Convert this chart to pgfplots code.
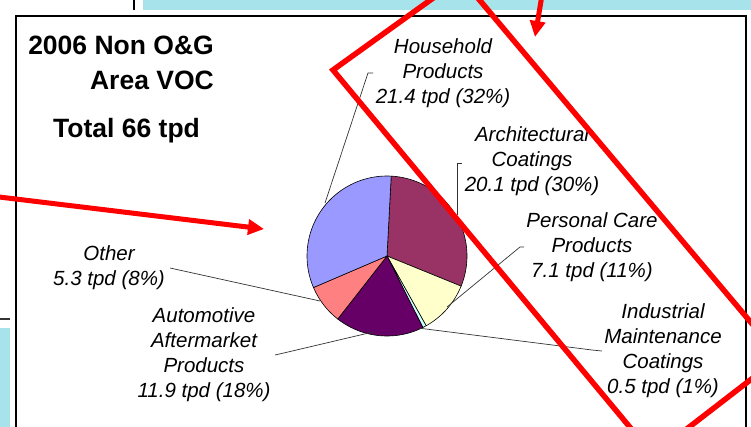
\documentclass[border=0pt]{standalone}
\usepackage{pgfplots}
\pgfplotsset{compat=1.18}
\usepackage{pgfplotstable}
\usepackage{fontspec}
\setmainfont{Liberation Sans}
\usetikzlibrary{arrows.meta}
\definecolor{cHouse}{HTML}{9999FF}
\definecolor{cArch}{HTML}{993366}
\definecolor{cPers}{HTML}{FFFFCC}
\definecolor{cInd}{HTML}{CCFFFF}
\definecolor{cAuto}{HTML}{660066}
\definecolor{cOther}{HTML}{FF8080}
\definecolor{slidecyan}{HTML}{A6E3EB}
\definecolor{redline}{HTML}{FF0000}

\pgfplotstableread{
name tpd
Architectural 20.1
PersonalCare 7.1
Industrial 0.5
Automotive 11.9
Other 5.3
Household 21.4
}\pietable
\pgfplotstablegetelem{0}{tpd}\of\pietable \let\vA\pgfplotsretval
\pgfplotstablegetelem{1}{tpd}\of\pietable \let\vB\pgfplotsretval
\pgfplotstablegetelem{2}{tpd}\of\pietable \let\vC\pgfplotsretval
\pgfplotstablegetelem{3}{tpd}\of\pietable \let\vD\pgfplotsretval
\pgfplotstablegetelem{4}{tpd}\of\pietable \let\vE\pgfplotsretval
\pgfplotstablegetelem{5}{tpd}\of\pietable \let\vF\pgfplotsretval
\pgfmathsetmacro\tot{\vA+\vB+\vC+\vD+\vE+\vF}
\pgfmathsetmacro\sA{87}
\pgfmathsetmacro\sB{\sA-360*\vA/\tot}
\pgfmathsetmacro\sC{\sB-360*\vB/\tot}
\pgfmathsetmacro\sD{\sC-360*\vC/\tot}
\pgfmathsetmacro\sE{\sD-360*\vD/\tot}
\pgfmathsetmacro\sF{\sE-360*\vE/\tot}
\pgfmathsetmacro\sG{\sF-360*\vF/\tot}

\begin{document}%
\begin{tikzpicture}
\begin{axis}[
  at={(0,0)}, anchor=south west,
  scale only axis, width=751bp, height=427bp,
  xmin=0, xmax=751, ymin=0, ymax=427, y dir=reverse,
  hide axis, clip=true,
]
% slide background pieces
\fill[slidecyan] (axis cs:143,-5) rectangle (axis cs:760,10);
\fill[slidecyan] (axis cs:-5,328) rectangle (axis cs:10,432);
\draw[black, line width=1.5bp] (axis cs:134,-5) -- (axis cs:134,10);
\draw[black!80, line width=1.5bp] (axis cs:-5,319) -- (axis cs:10,319);
% chart frame
\draw[black, line width=1.2bp] (axis cs:16,435) -- (axis cs:16,16) -- (axis cs:746,16) -- (axis cs:746,435);

% pie slices
\addplot[fill=cArch, draw=black, line width=0.6bp, domain=\sB:\sA, samples=60, variable=\t]
  ({387+80*cos(\t)},{256-80*sin(\t)}) -- (axis cs:387,256) -- cycle;
\addplot[fill=cPers, draw=black, line width=0.6bp, domain=\sC:\sB, samples=30, variable=\t]
  ({387+80*cos(\t)},{256-80*sin(\t)}) -- (axis cs:387,256) -- cycle;
\addplot[fill=cInd, draw=black, line width=0.6bp, domain=\sD:\sC, samples=5, variable=\t]
  ({387+80*cos(\t)},{256-80*sin(\t)}) -- (axis cs:387,256) -- cycle;
\addplot[fill=cAuto, draw=black, line width=0.6bp, domain=\sE:\sD, samples=40, variable=\t]
  ({387+80*cos(\t)},{256-80*sin(\t)}) -- (axis cs:387,256) -- cycle;
\addplot[fill=cOther, draw=black, line width=0.6bp, domain=\sF:\sE, samples=20, variable=\t]
  ({387+80*cos(\t)},{256-80*sin(\t)}) -- (axis cs:387,256) -- cycle;
\addplot[fill=cHouse, draw=black, line width=0.6bp, domain=\sG:\sF, samples=60, variable=\t]
  ({387+80*cos(\t)},{256-80*sin(\t)}) -- (axis cs:387,256) -- cycle;

% leader lines
\draw[black!80, line width=0.7bp] (axis cs:325,203) -- (axis cs:368,73) -- (axis cs:373,73);
\draw[black!80, line width=0.7bp] (axis cs:457,215) -- (axis cs:457,163) -- (axis cs:462,163);
\draw[black!80, line width=0.7bp] (axis cs:447,307) -- (axis cs:520,247) -- (axis cs:524,247);
\draw[black!80, line width=0.7bp] (axis cs:418,328) -- (axis cs:592,350) -- (axis cs:602,351);
\draw[black!80, line width=0.7bp] (axis cs:170,268) -- (axis cs:320,301);
\draw[black!80, line width=0.7bp] (axis cs:275,355) -- (axis cs:288,352) -- (axis cs:373,332);

% title
\node[anchor=base east, inner sep=0pt, font=\fontsize{26.5bp}{30bp}\selectfont\bfseries] at (axis cs:214,55) {2006 Non O\&G};
\node[anchor=base east, inner sep=0pt, font=\fontsize{26.5bp}{30bp}\selectfont\bfseries] at (axis cs:214,90) {Area VOC};
\node[anchor=base west, inner sep=0pt, font=\fontsize{26.5bp}{30bp}\selectfont\bfseries] at (axis cs:53,137) {Total 66 tpd};

% labels
\tikzset{lab/.style={inner sep=0pt, align=center, font=\fontsize{20.5bp}{25bp}\selectfont\itshape}}
\node[lab] at (axis cs:443,73) {Household\\Products\\21.4 tpd (32\%)};
\node[lab] at (axis cs:532,161) {Architectural\\Coatings\\20.1 tpd (30\%)};
\node[lab] at (axis cs:592,247) {Personal Care\\Products\\7.1 tpd (11\%)};
\node[lab] at (axis cs:663,351) {Industrial\\Maintenance\\Coatings\\0.5 tpd (1\%)};
\node[lab] at (axis cs:109,268) {Other\\5.3 tpd (8\%)};
\node[lab] at (axis cs:204,355) {Automotive\\Aftermarket\\Products\\11.9 tpd (18\%)};

% red annotations
\draw[redline, line width=5.5bp, line join=miter] (axis cs:333,70) -- (axis cs:461,-22) -- (axis cs:780,357) -- (axis cs:653,455) -- cycle;
\draw[redline, line width=5bp, -{Triangle[length=16bp,width=15bp]}] (axis cs:-5,196.5) -- (axis cs:264,229);
\draw[redline, line width=5bp, -{Triangle[length=16bp,width=15bp]}] (axis cs:542,-5) -- (axis cs:535,37);
\end{axis}
\end{tikzpicture}%
\end{document}
